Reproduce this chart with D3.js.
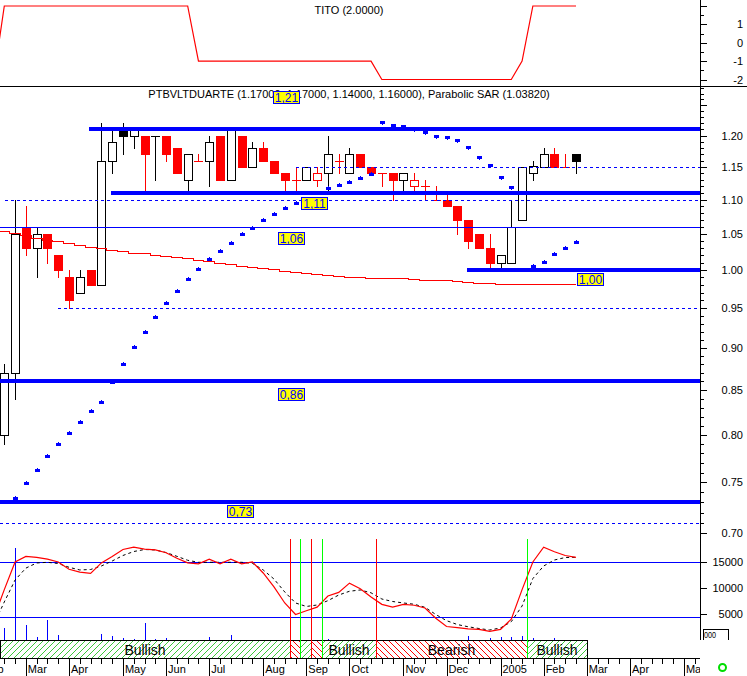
<!DOCTYPE html>
<html><head><meta charset="utf-8">
<script src="https://cdn.jsdelivr.net/npm/d3@7/dist/d3.min.js"></script>
<style>
html,body{margin:0;padding:0;background:#fff;}
svg{display:block;}
text{font-family:"Liberation Sans",Arial,sans-serif;}
</style></head><body>
<svg id="chart" width="747" height="676"></svg>
<script>
// ================= DATA =================
const ticker = "PTBVLTDUARTE";
const weeks = d3.range(0, 54);               // weekly candles, week 0 = first candle
const openP  = [0.80,0.87,1.06,1.03,1.05,1.02,0.99,0.97,1.00,0.98,1.16,1.21,1.20,1.20,1.20,1.20,1.18,1.13,1.16,1.16,1.20,1.13,1.20,1.15,1.18,1.16,1.14,1.13,1.13,1.13,1.14,1.16,1.14,1.17,1.15,1.14,1.14,1.13,1.12,1.12,1.10,1.10,1.09,1.07,1.05,1.03,1.01,1.01,1.07,1.14,1.15,1.17,1.15,1.17];
const highP  = [0.88,1.10,1.09,1.06,1.05,1.02,1.00,1.00,1.00,1.22,1.21,1.22,1.21,1.20,1.20,1.20,1.18,1.17,1.17,1.20,1.20,1.21,1.20,1.19,1.19,1.16,1.14,1.15,1.15,1.15,1.20,1.17,1.18,1.17,1.15,1.14,1.14,1.14,1.14,1.13,1.12,1.11,1.09,1.07,1.05,1.05,1.02,1.10,1.15,1.16,1.18,1.18,1.17,1.17];
const lowP   = [0.79,0.84,1.02,0.99,1.01,0.99,0.95,0.97,0.98,0.98,1.14,1.17,1.18,1.11,1.13,1.16,1.14,1.11,1.16,1.12,1.13,1.13,1.15,1.15,1.16,1.14,1.11,1.11,1.13,1.12,1.11,1.14,1.14,1.15,1.14,1.12,1.10,1.11,1.11,1.10,1.10,1.09,1.05,1.03,1.03,1.00,1.00,1.01,1.07,1.13,1.15,1.15,1.15,1.14];
const closeP = [0.87,1.05,1.03,1.05,1.03,1.00,0.96,0.99,0.98,1.16,1.19,1.20,1.21,1.17,1.20,1.17,1.14,1.17,1.16,1.19,1.13,1.21,1.15,1.18,1.16,1.14,1.13,1.13,1.15,1.14,1.17,1.16,1.17,1.15,1.14,1.14,1.13,1.14,1.13,1.12,1.10,1.09,1.07,1.04,1.03,1.01,1.02,1.06,1.15,1.152,1.17,1.15,1.15,1.16];
const sarP   = [null,0.734,0.749,0.763,0.777,0.790,0.802,0.814,0.826,0.836,0.859,0.881,0.901,0.920,0.939,0.956,0.972,0.988,1.001,1.015,1.026,1.038,1.050,1.059,1.070,1.079,1.087,1.095,1.101,1.110,1.117,1.122,1.126,1.133,1.139,1.222,1.218,1.216,1.211,1.205,1.200,1.198,1.193,1.181,1.165,1.153,1.134,1.119,1.000,1.005,1.011,1.022,1.030,1.0382];
const volume = [2250,17750,2900,520,3850,960,0,0,0,1150,770,385,190,3330,250,385,0,0,0,580,0,960,0,0,0,0,0,0,0,0,250,0,0,0,0,0,0,0,0,0,0,0,0,770,0,385,520,520,770,440,0,385,0,0];

// line series start one week before the first candle (partly off the left edge)
const lineWeeks = d3.range(-1, 54);
const movingAvg = [1.057,1.055,1.052,1.048,1.045,1.042,1.040,1.038,1.035,1.032,1.030,1.028,1.026,1.024,1.023,1.021,1.019,1.018,1.016,1.014,1.012,1.010,1.008,1.006,1.004,1.003,1.001,0.999,0.998,0.996,0.995,0.994,0.992,0.991,0.990,0.989,0.989,0.989,0.989,0.988,0.987,0.987,0.986,0.985,0.984,0.983,0.982,0.981,0.981,0.981,0.981,0.981,0.981,0.981,0.981];
const tito = [-2,2,2,2,2,2,2,2,2,2,2,2,2,2,2,2,2,2,2,-1,-1,-1,-1,-1,-1,-1,-1,-1,-1,-1,-1,-1,-1,-1,-1,-1,-2,-2,-2,-2,-2,-2,-2,-2,-2,-2,-2,-2,-2,-1,2,2,2,2,2];
const stochK = [18,50,80,86,85,83,80,72,69,67.5,79,86,93.5,96,94,93,90,84,79,78,83,78,83,78,80,68,53,35.5,23,27,31,43,47,57,51,42,34,31,34,33,30,19,10,8.7,7.3,6.9,4.6,6.9,18,50,80,96,91,87,85];
const stochD = [11.6,36.6,60.4,73.3,78.9,79.6,78.3,74.2,71.3,71.8,75.6,81,87,91.3,93.5,93,90.2,86.1,81.8,79.6,79.6,79.6,79.6,79.6,78.5,71.3,61.5,47.4,35.5,31.7,33.3,38,44.1,48.2,49.6,46.5,39.8,37.1,35.5,34.1,30.8,23,16.3,12.1,9.7,7.8,6.2,8.4,15.2,32.2,62,75.6,82.1,84.8,85];

const supportLevels   = [1.21, 1.11, 1.00, 0.86, 0.73];
const supportFromWeek = [7.86, 9.9, 42.87, -1, -1];
const thinLevels      = [1.06];
const dashedLevels    = [1.15, 1.10, 0.95, 0.71];
const dashedFromWeek  = [27.05, 0.07, 5.0, -1];
const labelLevels     = [1.21, 1.11, 1.06, 1.00, 0.86, 0.73];

const signalWeeks = [26, 27, 28, 29, 34, 48];
const signalTypes = ["Bearish","Bullish","Bearish","Bullish","Bearish","Bullish"];
const firstTrend  = "Bullish";
const oscLevels   = [20, 80];

const monthWeeks  = [-2, 2, 6, 11, 15, 19, 24, 28, 32, 37, 41, 46, 50, 54, 58, 63];
const monthLabels = ["Feb","Mar","Apr","May","Jun","Jul","Aug","Sep","Oct","Nov","Dec","2005","Feb","Mar","Apr","May"];
const mainTickLabels = [0.70,0.75,0.80,0.85,0.90,0.95,1.00,1.05,1.10,1.15,1.20];
const topTickLabels  = [1, 0, -1, -2];
const volTickLabels  = [5000, 10000, 15000];

// ================= LAYOUT =================
const svg = d3.select("#chart");
const AX = 700;            // right axis position
const BLUE = "#0000ff", RED = "#ff0000", GREEN = "#00ff00";
const step = 10.787;
const x = d3.scaleLinear().domain([0, 61]).range([4.3, 4.3 + 61 * step]);
const yMain = d3.scaleLog().domain([0.70, 1.20]).range([533.3, 135.5]);
const yTop  = d3.scaleLinear().domain([-2, 2]).range([79.5, 6]);
const yOsc  = d3.scaleLinear().domain([0, 100]).range([635.7, 543.5]);
const yVol  = d3.scaleLinear().domain([0, 15000]).range([640, 562]);
const px = v => Math.round(v);

const defs = svg.append("defs");
function clip(id, x0, y0, w, h){ defs.append("clipPath").attr("id", id).append("rect").attr("x", x0).attr("y", y0).attr("width", w).attr("height", h); }
clip("cTop", 0, 0, AX, 86);
clip("cMain", 0, 87, AX, 453);
clip("cBot", 0, 538, AX, 103);
clip("cX", 0, 655, AX, 21);

// hatch patterns
const pg = defs.append("pattern").attr("id","hatchG").attr("patternUnits","userSpaceOnUse").attr("width",6).attr("height",6);
pg.append("rect").attr("width",6).attr("height",6).attr("fill","#fff");
pg.append("path").attr("d","M-1,1 L1,-1 M0,6 L6,0 M5,7 L7,5").attr("stroke","#3cc83c").attr("stroke-width",1);
const pr = defs.append("pattern").attr("id","hatchR").attr("patternUnits","userSpaceOnUse").attr("width",6).attr("height",6);
pr.append("rect").attr("width",6).attr("height",6).attr("fill","#fff");
pr.append("path").attr("d","M-1,5 L1,7 M0,0 L6,6 M5,-1 L7,1").attr("stroke",RED).attr("stroke-width",1);

svg.append("rect").attr("width",747).attr("height",676).attr("fill","#fff");

// ================= TOP PANEL (TITO) =================
const gTop = svg.append("g").attr("clip-path","url(#cTop)");
gTop.append("path")
  .datum(lineWeeks.map((w,k)=>[w, tito[k]]))
  .attr("fill","none").attr("stroke",RED).attr("stroke-width",1.2)
  .attr("d", d3.line().x(d=>x(d[0])).y(d=>yTop(d[1])));
svg.append("text").attr("x",349).attr("y",14).attr("text-anchor","middle")
  .attr("font-size",11).text("TITO (2.0000)");
// separator
svg.append("line").attr("x1",0).attr("x2",747).attr("y1",86.5).attr("y2",86.5).attr("stroke","#000");

// ================= MAIN PANEL =================
const gMain = svg.append("g").attr("clip-path","url(#cMain)");

// candles
const candles = weeks.map(i => {
  const prev = i > 0 ? closeP[i-1] : null;
  return {i, o: openP[i], h: highP[i], l: lowP[i], c: closeP[i],
          col: (prev === null || closeP[i] > prev) ? "#000" : RED,
          filled: closeP[i] < openP[i]};
});
const gC = gMain.append("g").attr("shape-rendering","crispEdges");
candles.forEach(d => {
  const cx = px(x(d.i));
  const g = gC.append("g");
  g.append("line").attr("x1",cx+0.5).attr("x2",cx+0.5)
    .attr("y1",px(yMain(d.h))).attr("y2",px(yMain(d.l))+1).attr("stroke",d.col);
  const yt = px(yMain(Math.max(d.o,d.c))), yb = px(yMain(Math.min(d.o,d.c)));
  if (Math.abs(d.o - d.c) < 1e-9) {
    g.append("line").attr("x1",cx-4).attr("x2",cx+5).attr("y1",yt+0.5).attr("y2",yt+0.5).attr("stroke",d.col);
  } else if (d.filled) {
    g.append("rect").attr("x",cx-4).attr("y",yt).attr("width",9).attr("height",Math.max(1,yb-yt+1)).attr("fill",d.col);
  } else {
    g.append("rect").attr("x",cx-3.5).attr("y",yt+0.5).attr("width",8).attr("height",Math.max(1,yb-yt)).attr("fill","#fff").attr("stroke",d.col);
  }
});

// moving average (step)
gMain.append("path")
  .datum(lineWeeks.map((w,k)=>[w, movingAvg[k]]))
  .attr("fill","none").attr("stroke",RED).attr("stroke-width",1)
  .attr("shape-rendering","crispEdges")
  .attr("d", d3.line().curve(d3.curveStep).x(d=>px(x(d[0]))).y(d=>px(yMain(d[1]))+0.5));

// parabolic SAR
const gS = gMain.append("g").attr("fill",BLUE).attr("shape-rendering","crispEdges");
weeks.forEach(i => {
  if (sarP[i] === null) return;
  const cx = px(x(i)), cy = px(yMain(sarP[i]));
  const above = sarP[i] > highP[i];
  gS.append("rect").attr("x",cx-2).attr("y",cy-1).attr("width",5).attr("height",3);
  gS.append("rect").attr("x",cx).attr("y",above ? cy+2 : cy-2).attr("width",1).attr("height",1);
});

// dashed levels
dashedLevels.forEach((v,k) => {
  gMain.append("line").attr("x1",Math.max(0,x(dashedFromWeek[k]))).attr("x2",AX)
    .attr("y1",px(yMain(v))+0.5).attr("y2",px(yMain(v))+0.5)
    .attr("stroke",BLUE).attr("stroke-dasharray","3,3").attr("shape-rendering","crispEdges");
});
// thin levels
thinLevels.forEach(v => {
  gMain.append("line").attr("x1",0).attr("x2",AX)
    .attr("y1",px(yMain(v))+0.5).attr("y2",px(yMain(v))+0.5)
    .attr("stroke",BLUE).attr("shape-rendering","crispEdges");
});
// thick support / resistance levels
supportLevels.forEach((v,k) => {
  gMain.append("line").attr("x1",Math.max(0,x(supportFromWeek[k]))).attr("x2",AX)
    .attr("y1",px(yMain(v))).attr("y2",px(yMain(v)))
    .attr("stroke",BLUE).attr("stroke-width",4).attr("shape-rendering","crispEdges");
});

// title
const last = candles[candles.length-1];
const f5 = d3.format(".5f");
svg.append("text").attr("x",349).attr("y",98).attr("text-anchor","middle").attr("font-size",11)
  .text(`${ticker} (${f5(last.o)}, ${f5(last.h)}, ${f5(last.l)}, ${f5(last.c)}), Parabolic SAR (${f5(sarP[sarP.length-1])})`);

// level labels (yellow boxes)
const labelPos = {"1.21":[273,91], "1.11":[301,197], "1.06":[278,232], "1.00":[577,273], "0.86":[278,388], "0.73":[227,505]};
labelLevels.forEach(v => {
  const key = v.toFixed(2), p = labelPos[key];
  const g = svg.append("g").attr("transform",`translate(${p[0]},${p[1]})`);
  g.append("rect").attr("x",0.5).attr("y",0.5).attr("width",26).attr("height",12)
    .attr("fill","#ffff00").attr("stroke",BLUE).attr("shape-rendering","crispEdges");
  g.append("text").attr("x",13.5).attr("y",11).attr("text-anchor","middle")
    .attr("font-size",12).attr("fill",BLUE).text(key.replace(".",","));
});

// ================= BOTTOM PANEL =================
const gBot = svg.append("g").attr("clip-path","url(#cBot)");
// volume
gBot.append("g").attr("shape-rendering","crispEdges").selectAll("line")
  .data(weeks.filter(i => volume[i] > 0)).join("line")
  .attr("x1",i=>px(x(i))+0.5).attr("x2",i=>px(x(i))+0.5)
  .attr("y1",yVol(0)).attr("y2",i=>px(yVol(volume[i])))
  .attr("stroke",BLUE);
// oscillator levels
oscLevels.forEach(v => {
  gBot.append("line").attr("x1",0).attr("x2",AX).attr("y1",px(yOsc(v))+0.5).attr("y2",px(yOsc(v))+0.5)
    .attr("stroke",BLUE).attr("shape-rendering","crispEdges");
});
const oscLine = d3.line().x(d=>x(d[0])).y(d=>yOsc(d[1]));
gBot.append("path").datum(lineWeeks.map((w,k)=>[w, stochD[k]]))
  .attr("fill","none").attr("stroke","#000").attr("stroke-width",1).attr("stroke-dasharray","3,3").attr("d",oscLine);
gBot.append("path").datum(lineWeeks.map((w,k)=>[w, stochK[k]]))
  .attr("fill","none").attr("stroke",RED).attr("stroke-width",1.2).attr("d",oscLine);

// trend band
const bandTop = 640, bandBot = 658;
const bounds = [-1.4, ...signalWeeks.map(w => w + 0.45), weeks[weeks.length-1] + 1];
const trends = [firstTrend, ...signalTypes];
const gBand = svg.append("g");
trends.forEach((t,k) => {
  const x0 = Math.max(0, px(x(bounds[k]))), x1 = px(x(bounds[k+1]));
  gBand.append("rect").attr("x",x0+0.5).attr("y",bandTop+0.5).attr("width",x1-x0).attr("height",bandBot-bandTop)
    .attr("fill", t === "Bullish" ? "url(#hatchG)" : "url(#hatchR)")
    .attr("stroke","#000").attr("shape-rendering","crispEdges");
  if (x1 - x0 > 45) {
    gBand.append("text").attr("x",(x0+x1)/2).attr("y",655).attr("text-anchor","middle")
      .attr("font-size",14).text(t);
  }
});
// signal lines
signalWeeks.forEach((w,k) => {
  const xx = px(x(w + 0.45)) + 0.5;
  svg.append("line").attr("x1",xx).attr("x2",xx).attr("y1",539).attr("y2",bandBot)
    .attr("stroke", signalTypes[k] === "Bullish" ? GREEN : RED).attr("shape-rendering","crispEdges");
});

// ================= AXES =================
const gAx = svg.append("g").attr("shape-rendering","crispEdges").attr("stroke","#000");
gAx.append("line").attr("x1",AX+0.5).attr("x2",AX+0.5).attr("y1",0).attr("y2",640);
// top ticks
d3.range(-2, 2.01, 0.5).forEach(v => {
  const y = px(yTop(v)) + 0.5, major = Number.isInteger(v);
  gAx.append("line").attr("x1",AX).attr("x2",AX + (major?7:4)).attr("y1",y).attr("y2",y);
});
topTickLabels.forEach(v => {
  svg.append("text").attr("x",743).attr("y",yTop(v)+4).attr("text-anchor","end").attr("font-size",11).text(v);
});
// main ticks (0.01 minor, 0.05 major)
d3.range(69, 129).forEach(c => {
  const v = c/100, y = px(yMain(v)) + 0.5;
  if (y < 87 || y > 540) return;
  gAx.append("line").attr("x1",AX).attr("x2",AX + (c % 5 === 0 ? 7 : 4)).attr("y1",y).attr("y2",y);
});
mainTickLabels.forEach(v => {
  svg.append("text").attr("x",743).attr("y",yMain(v)+4).attr("text-anchor","end").attr("font-size",11).text(v.toFixed(2));
});
// volume ticks
volTickLabels.forEach(v => {
  const y = px(yVol(v)) + 0.5;
  gAx.append("line").attr("x1",AX).attr("x2",AX+7).attr("y1",y).attr("y2",y);
  svg.append("text").attr("x",743).attr("y",yVol(v)+4).attr("text-anchor","end").attr("font-size",11).text(v);
});
// small clipped volume-scale box
svg.append("path").attr("d","M703.5,640 V629.5 H728.5 V640").attr("fill","none").attr("stroke","#000").attr("shape-rendering","crispEdges");
svg.append("text").attr("x",704).attr("y",638).attr("font-size",9).attr("textLength",12).attr("lengthAdjust","spacingAndGlyphs").text("000");

// x axis
const gX = svg.append("g").attr("clip-path","url(#cX)");
gX.append("line").attr("x1",0).attr("x2",AX).attr("y1",bandBot+0.5).attr("y2",bandBot+0.5).attr("stroke","#000").attr("shape-rendering","crispEdges");
d3.range(-2, 65).forEach(w => {
  const xx = px(x(w)) + 0.5, isMonth = monthWeeks.includes(w);
  gX.append("line").attr("x1",xx).attr("x2",xx).attr("y1",bandBot).attr("y2",isMonth ? 676 : 664)
    .attr("stroke","#000").attr("shape-rendering","crispEdges");
});
monthWeeks.forEach((w,k) => {
  gX.append("text").attr("x",x(w)+2).attr("y",673).attr("font-size",11).text(monthLabels[k]);
});

// status ring
svg.append("circle").attr("cx",722.5).attr("cy",667.5).attr("r",3.5).attr("fill","none").attr("stroke","#00dd00").attr("stroke-width",2);
</script>
</body></html>
